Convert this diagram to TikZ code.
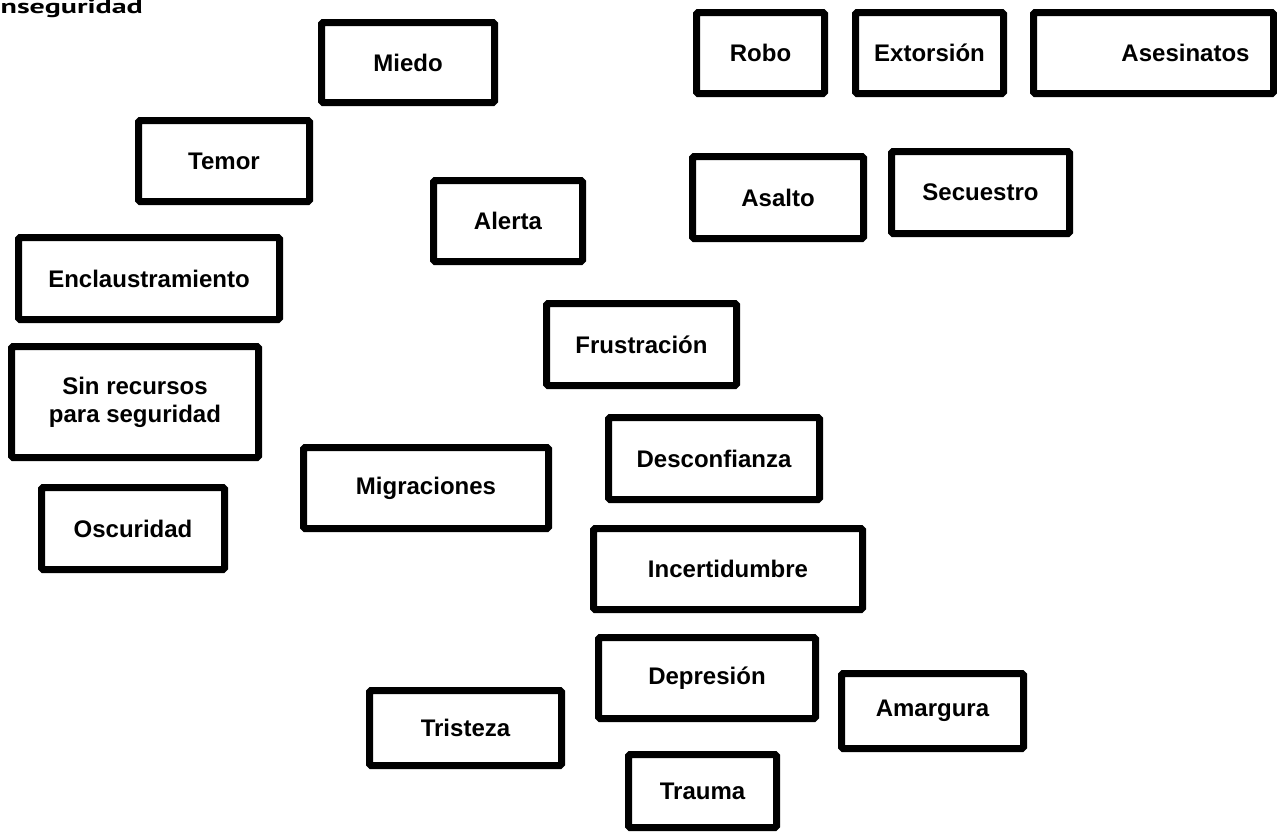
\documentclass[tikz,border=0pt]{standalone}
\usepackage{fontspec}
\setmainfont{Liberation Sans}
\newfontfamily\titlefont{PT Sans}
\begin{document}
\begin{tikzpicture}[x=1pt, y=-1pt,
  wordbox/.style={draw=black, line width=7pt, rounded corners=1.5pt, fill=white,
    inner sep=0pt, font=\fontsize{24}{28}\selectfont\bfseries, align=center},
  heading/.style={font=\titlefont\fontsize{20}{24}\selectfont\bfseries, inner sep=0pt}]
  \useasboundingbox[fill=white] (0,0) rectangle (1277,833);
  % heading, partly running off the left edge
  \node[heading, anchor=base east] (titulo) at (143,13) {\scalebox{1.5}[1]{Inseguridad}};
  % first row
  \node[wordbox, minimum width=173pt, minimum height=80pt] (miedo) at (408,62.5) {Miedo};
  \node[wordbox, minimum width=128pt, minimum height=81pt] (robo) at (760.5,53) {Robo};
  \node[wordbox, minimum width=148pt, minimum height=81pt] (extorsion) at (929.5,53) {Extorsión};
  \node[wordbox, minimum width=240pt, minimum height=81pt] (asesinatos) at (1153.5,53) {\hspace*{64pt}Asesinatos};
  % upper middle
  \node[wordbox, minimum width=171pt, minimum height=81pt] (temor) at (224,161) {Temor};
  \node[wordbox, minimum width=149pt, minimum height=81pt] (alerta) at (508,221) {Alerta};
  \node[wordbox, minimum width=171pt, minimum height=82pt] (asalto) at (778,197.5) {Asalto};
  \node[wordbox, minimum width=178pt, minimum height=82pt] (secuestro) at (980.5,192.5) {Secuestro};
  % left column
  \node[wordbox, minimum width=261pt, minimum height=82pt] (enclaustramiento) at (149,278.5) {Enclaustramiento};
  \node[wordbox, minimum width=247pt, minimum height=111pt] (recursos) at (135,402) {Sin recursos\\para seguridad};
  \node[wordbox, minimum width=183pt, minimum height=82pt] (oscuridad) at (133,528.5) {Oscuridad};
  \node[wordbox, minimum width=245pt, minimum height=81pt] (migraciones) at (426,488) {Migraciones};
  % centre column
  \node[wordbox, minimum width=190pt, minimum height=82pt] (frustracion) at (641.5,344.5) {Frustración};
  \node[wordbox, minimum width=211pt, minimum height=82pt] (desconfianza) at (714,458.5) {Desconfianza};
  \node[wordbox, minimum width=269pt, minimum height=81pt] (incertidumbre) at (728,569) {Incertidumbre};
  % bottom group
  \node[wordbox, minimum width=192pt, minimum height=75pt] (tristeza) at (465.5,728) {Tristeza};
  \node[wordbox, minimum width=217pt, minimum height=81pt] (depresion) at (707,678) {Depresión};
  \node[wordbox, minimum width=148pt, minimum height=73pt] (trauma) at (702.5,791) {Trauma};
  \node[wordbox, minimum width=182pt, minimum height=75pt] (amargura) at (932.5,711) {Amargura};
\end{tikzpicture}
\end{document}
